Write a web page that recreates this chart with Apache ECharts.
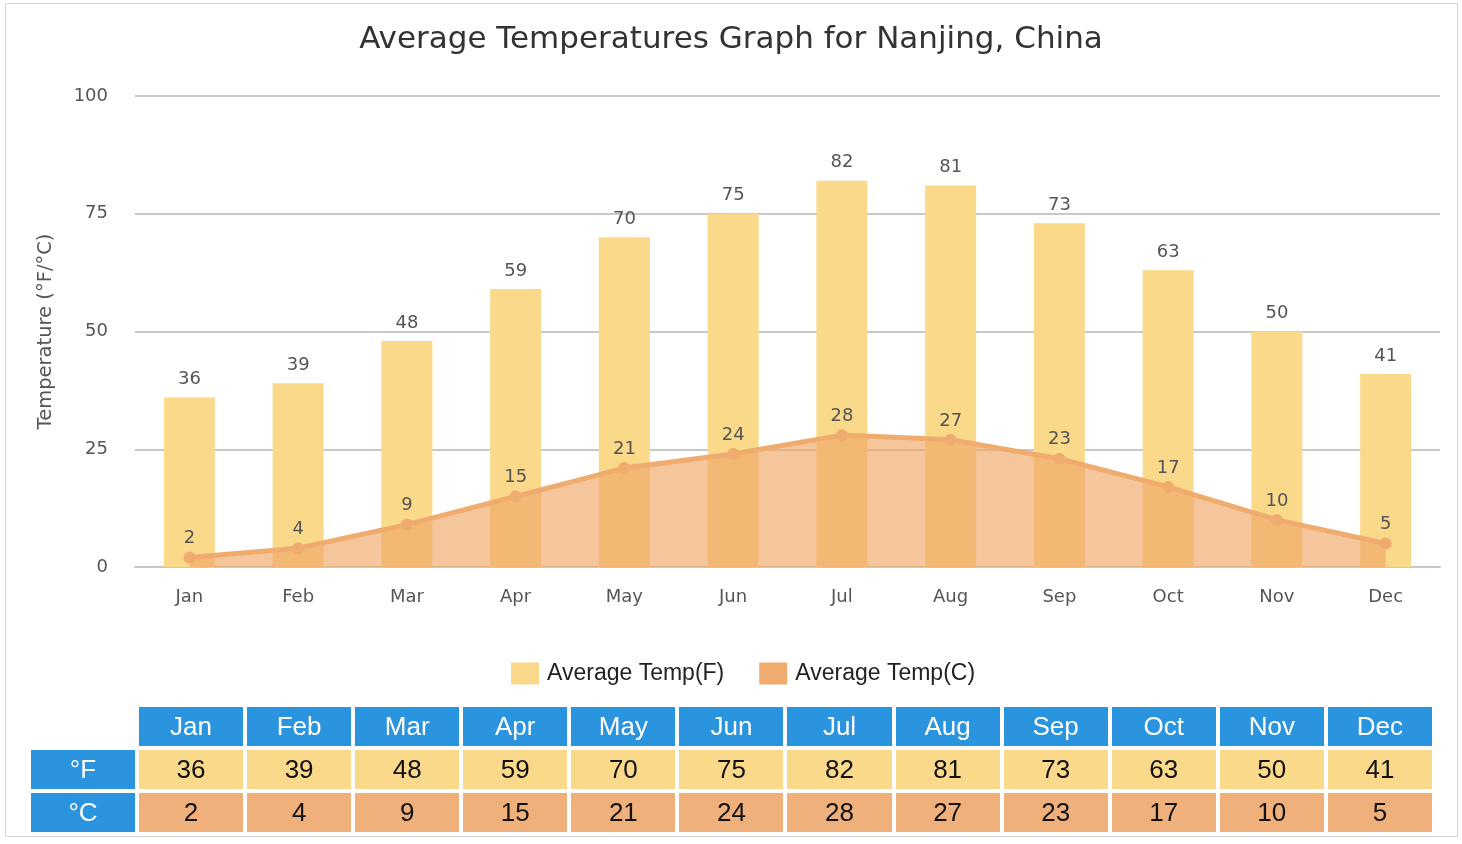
<!DOCTYPE html>
<html><head><meta charset="utf-8">
<script src="https://cdn.jsdelivr.net/npm/echarts@6/dist/echarts.min.js"></script>
<style>
html,body{margin:0;padding:0;background:#fff;}
#frame{position:absolute;left:5px;top:3px;width:1451px;height:832px;border:1px solid #d6d6d6;}
#chart{position:absolute;left:0;top:0;width:1462px;height:844px;}
#tbl{position:absolute;left:27px;top:703px;width:1409px;table-layout:fixed;border-collapse:separate;border-spacing:4px;font-family:"Liberation Sans","Noto Sans",sans-serif;font-size:26px;}
#tbl td{text-align:center;padding:0;height:39px;overflow:hidden;}
</style></head><body>
<div id="frame"></div>
<div id="chart"></div>
<table id="tbl"></table>
<script>
const months = ['Jan','Feb','Mar','Apr','May','Jun','Jul','Aug','Sep','Oct','Nov','Dec'];
const tempF = [36,39,48,59,70,75,82,81,73,63,50,41];
const tempC = [2,4,9,15,21,24,28,27,23,17,10,5];
const yTicks = {min:0,max:100,interval:25};

const chart = echarts.init(document.getElementById('chart'));
chart.setOption({
  backgroundColor:'transparent',
  animation:false,
  title:{text:'Average Temperatures Graph for Nanjing, China',left:'center',top:19,
    textStyle:{fontFamily:'DejaVu Sans',fontWeight:'normal',fontSize:31,color:'#333'}},
  legend:{top:657,left:506,itemWidth:28,itemHeight:22,itemGap:35,
    textStyle:{fontFamily:'Liberation Sans',fontSize:23,color:'#222',padding:[0,0,0,3]},
    data:[{name:'Average Temp(F)',icon:'rect'},{name:'Average Temp(C)',icon:'rect'}]},
  grid:{left:135,right:22,top:96,bottom:277},
  xAxis:{type:'category',data:months,
    axisLine:{lineStyle:{color:'#c8c8c8',width:2}},
    axisTick:{length:16,lineStyle:{color:'#c8c8c8',width:2}},
    axisLabel:{fontFamily:'DejaVu Sans',fontSize:18,color:'#555',margin:21}},
  yAxis:{type:'value',min:yTicks.min,max:yTicks.max,interval:yTicks.interval,
    name:'Temperature (°F/°C)',nameLocation:'middle',nameGap:79,
    nameTextStyle:{fontFamily:'DejaVu Sans',fontSize:19.5,color:'#555'},
    axisLine:{show:false},axisTick:{show:false},
    axisLabel:{fontFamily:'DejaVu Sans',fontSize:18,color:'#555',margin:27},
    splitLine:{lineStyle:{color:'#c8c8c8',width:2}}},
  series:[
    {name:'Average Temp(F)',type:'bar',data:tempF,barWidth:51,
     itemStyle:{color:'#fad98a'},
     label:{show:true,position:'top',distance:9,fontFamily:'DejaVu Sans',fontSize:18,color:'#555'}},
    {name:'Average Temp(C)',type:'line',data:tempC,symbol:'circle',symbolSize:12,
     itemStyle:{color:'#f0ab6e'},lineStyle:{color:'#f0ab6e',width:5},
     areaStyle:{color:'#f0a868',opacity:0.66},
     label:{show:true,position:'top',distance:4,fontFamily:'DejaVu Sans',fontSize:18,color:'#555'}}
  ]
});

// table built from arrays
const tbl = document.getElementById('tbl');
const blue = '#2b94df';
function row(label, vals, bg, color){
  const tr = document.createElement('tr');
  const th = document.createElement('td');
  th.textContent = label;
  th.style.width='104px';
  if(label!==''){th.style.background=blue;th.style.color='#fff';}
  tr.appendChild(th);
  vals.forEach(v=>{const td=document.createElement('td');td.textContent=v;td.style.background=bg;td.style.color=color;tr.appendChild(td);});
  tbl.appendChild(tr);
}
row('', months, blue, '#fff');
row('°F', tempF, '#fad98a', '#111');
row('°C', tempC, '#f0b07b', '#111');
</script>
</body></html>
